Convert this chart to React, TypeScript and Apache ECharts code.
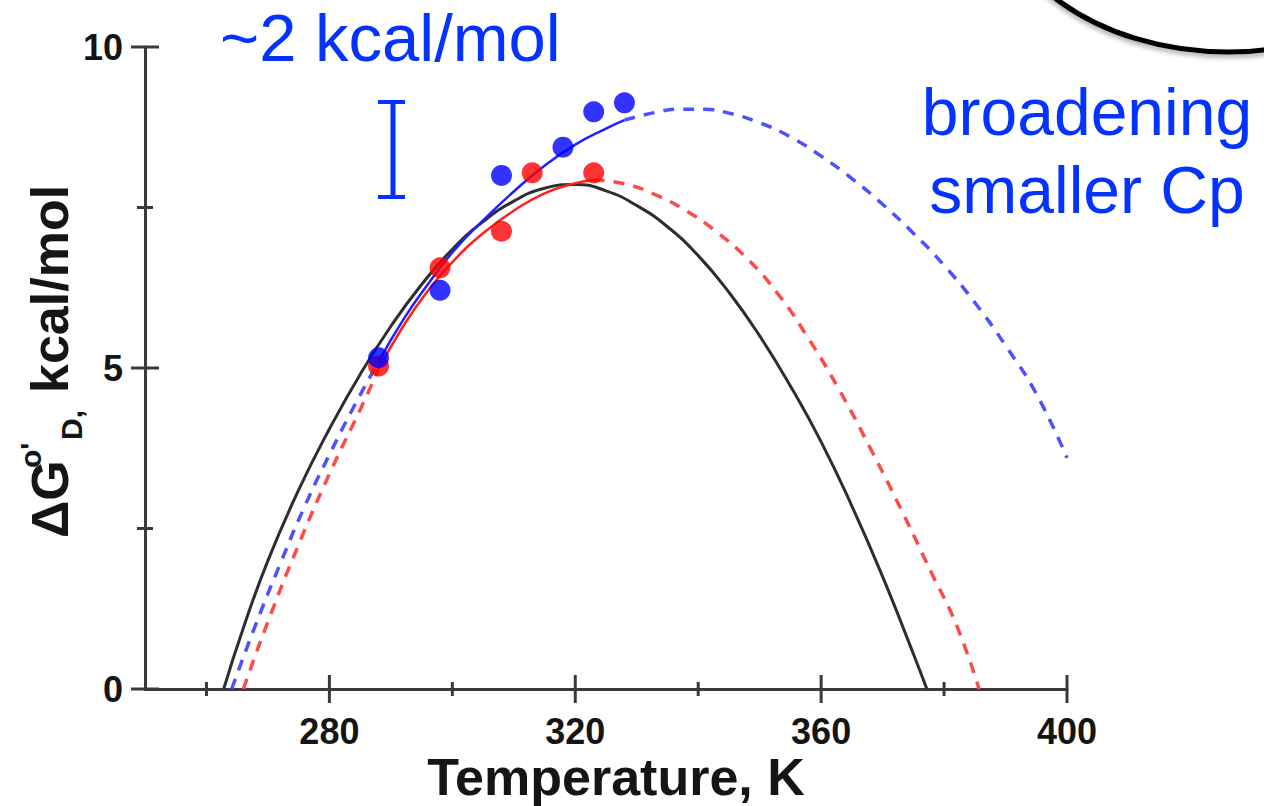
import React, { useEffect, useRef } from "react";
import * as echarts from "echarts";

// Stability curves, ΔG°'D (kcal/mol) against temperature (K)
const blackT = [262.8, 266, 270, 275, 280, 285, 290, 295, 300, 305, 310, 315, 320, 325, 330, 335, 340, 345, 350, 355, 360, 365, 370, 375, 377.2];
const blackG = [0, 0.95, 2.0, 3.1, 4.05, 4.9, 5.65, 6.3, 6.85, 7.28, 7.6, 7.8, 7.86, 7.76, 7.53, 7.2, 6.75, 6.18, 5.5, 4.72, 3.85, 2.85, 1.75, 0.55, 0];

const redT = [266, 270, 275, 280, 285, 288, 292, 296, 300, 305, 310, 315, 320, 323, 328, 333, 338, 343, 348, 353, 358, 363, 368, 373, 378, 382, 385.7];
const redG = [0, 1.05, 2.25, 3.35, 4.35, 4.98, 5.65, 6.2, 6.65, 7.1, 7.45, 7.72, 7.88, 7.93, 7.87, 7.7, 7.45, 7.12, 6.7, 6.15, 5.45, 4.65, 3.75, 2.8, 1.8, 1.0, 0];
const redFitRange = [288, 323];

const blueT = [264.1, 268, 272, 276, 280, 284, 288, 292, 296, 300, 305, 310, 315, 320, 325, 328, 333, 337, 341, 345, 350, 355, 360, 365, 370, 375, 380, 385, 390, 395, 400];
const blueG = [0, 1.0, 1.95, 2.85, 3.65, 4.4, 5.1, 5.75, 6.3, 6.8, 7.3, 7.75, 8.15, 8.48, 8.73, 8.86, 8.98, 9.03, 9.03, 8.97, 8.82, 8.6, 8.3, 7.95, 7.55, 7.1, 6.6, 6.02, 5.35, 4.6, 3.6];
const blueFitRange = [288, 328];

// Measured points
const redPointT = [288, 298, 308, 313, 323];
const redPointG = [5.03, 6.56, 7.13, 8.04, 8.04];
const bluePointT = [288, 298, 308, 318, 323, 328];
const bluePointG = [5.16, 6.21, 8.0, 8.44, 8.99, 9.13];

// Axis ticks
const xMin = 250;
const xMax = 400;
const yMin = 0;
const yMax = 10;
const xTickValues = [280, 320, 360, 400];
const xMinorValues = [260, 300, 340, 380];
const yTickValues = [0, 5, 10];
const yMinorValues = [2.5, 7.5];

const AXIS_COLOR = "#3a3a3a";
const TEXT_COLOR = "#151515";
const NOTE_BLUE = "#0433ff";
const FONT = "'Liberation Sans', Arial, Helvetica, sans-serif";

function pairs(t: number[], g: number[]) {
  return t.map((v, i) => [v, g[i]]);
}
function segment(t: number[], g: number[], lo: number, hi: number) {
  return pairs(t, g).filter(([x]) => x >= lo && x <= hi);
}

function lineSeries(data: number[][], color: string, width: number, dashed: boolean, z = 2) {
  return {
    type: "line",
    data,
    smooth: true,
    symbol: "none",
    z,
    silent: true,
    lineStyle: { color, width, type: dashed ? [11, 9] : "solid", cap: "butt" },
  };
}

// Tick marks that cross the axis line on both sides
function tickSeries(values: number[], onX: boolean, half: number) {
  return {
    type: "custom",
    silent: true,
    z: 1,
    clip: false,
    data: values.map((v) => (onX ? [v, yMin] : [xMin, v])),
    renderItem: (_params: any, api: any) => {
      const p = api.coord([api.value(0), api.value(1)]);
      const shape = onX
        ? { x1: p[0], y1: p[1] - half, x2: p[0], y2: p[1] + half }
        : { x1: p[0] - half, y1: p[1], x2: p[0] + half, y2: p[1] };
      return { type: "line", shape, style: { stroke: AXIS_COLOR, lineWidth: 3 } };
    },
  };
}

function rotatedText(text: string, x: number, y: number, size: number) {
  return {
    type: "text",
    x,
    y,
    rotation: Math.PI / 2,
    silent: true,
    style: {
      text,
      fill: TEXT_COLOR,
      fontSize: size,
      fontWeight: "bold",
      fontFamily: FONT,
      align: "left",
      textAlign: "left",
      verticalAlign: "middle",
      textVerticalAlign: "middle",
    },
  };
}

function noteText(text: string, x: number, y: number, align: string, size: number) {
  return {
    type: "text",
    x,
    y,
    silent: true,
    style: {
      text,
      fill: NOTE_BLUE,
      fontSize: size,
      fontWeight: "normal",
      fontFamily: FONT,
      align,
      textAlign: align,
      verticalAlign: "middle",
      textVerticalAlign: "middle",
    },
  };
}

export default function App() {
  const ref = useRef<HTMLDivElement>(null);

  useEffect(() => {
    if (!ref.current) return;
    const chart = echarts.init(ref.current, undefined, { renderer: "svg" });

    const option = {
      animation: false,
      backgroundColor: "#ffffff",
      grid: { left: 145, right: 197, top: 47, bottom: 117, containLabel: false },
      xAxis: {
        type: "value",
        min: xMin,
        max: xMax,
        splitLine: { show: false },
        axisLine: { show: true, onZero: false, lineStyle: { color: AXIS_COLOR, width: 3 } },
        axisTick: { show: false },
        axisLabel: { show: true, customValues: xTickValues, margin: 24, fontSize: 36, fontWeight: "bold", color: TEXT_COLOR, fontFamily: FONT },
      },
      yAxis: {
        type: "value",
        min: yMin,
        max: yMax,
        splitLine: { show: false },
        axisLine: { show: true, onZero: false, lineStyle: { color: AXIS_COLOR, width: 3 } },
        axisTick: { show: false },
        axisLabel: { show: true, customValues: yTickValues, margin: 22, fontSize: 36, fontWeight: "bold", color: TEXT_COLOR, fontFamily: FONT },
      },
      series: [
        tickSeries(xTickValues, true, 14),
        tickSeries(xMinorValues, true, 7),
        tickSeries(yTickValues, false, 14),
        tickSeries(yMinorValues, false, 8),
        lineSeries(pairs(blackT, blackG), "#2e2e2e", 3, false, 2),
        lineSeries(segment(redT, redG, redT[0], redFitRange[0]), "#ff4a4a", 3.5, true, 3),
        lineSeries(segment(redT, redG, redFitRange[0], redFitRange[1]), "#ff2020", 2.5, false, 3),
        lineSeries(segment(redT, redG, redFitRange[1], redT[redT.length - 1]), "#ff4a4a", 3.5, true, 3),
        lineSeries(segment(blueT, blueG, blueT[0], blueFitRange[0]), "#5050ff", 3.5, true, 4),
        lineSeries(segment(blueT, blueG, blueFitRange[0], blueFitRange[1]), "#2020ff", 2.5, false, 4),
        lineSeries(segment(blueT, blueG, blueFitRange[1], blueT[blueT.length - 1]), "#5050ff", 3.5, true, 4),
        {
          type: "scatter",
          data: pairs(redPointT, redPointG),
          symbol: "circle",
          symbolSize: 21,
          z: 5,
          silent: true,
          itemStyle: { color: "#ff0000" },
        },
        {
          type: "scatter",
          data: pairs(bluePointT, bluePointG),
          symbol: "circle",
          symbolSize: 21,
          z: 6,
          silent: true,
          itemStyle: { color: "#0000ff" },
        },
      ],
      graphic: [
        // axis titles
        rotatedText("ΔG", 50, 538, 52),
        rotatedText("o'", 30, 468, 30),
        rotatedText("D,", 71, 440, 30),
        rotatedText("kcal/mol", 50, 393, 52),
        {
          type: "text",
          x: 616,
          y: 777,
          silent: true,
          style: {
            text: "Temperature, K",
            fill: TEXT_COLOR,
            fontSize: 52,
            fontWeight: "bold",
            fontFamily: FONT,
            align: "center",
            textAlign: "center",
            verticalAlign: "middle",
            textVerticalAlign: "middle",
          },
        },
        // annotations
        noteText("~2 kcal/mol", 220, 37, "left", 67),
        noteText("broadening", 1087, 112, "center", 66),
        noteText("smaller Cp", 1087, 190, "center", 66),
        {
          type: "line",
          silent: true,
          shape: { x1: 393, y1: 100, x2: 393, y2: 199 },
          style: { stroke: NOTE_BLUE, lineWidth: 5 },
        },
        {
          type: "line",
          silent: true,
          shape: { x1: 378, y1: 102, x2: 405, y2: 102 },
          style: { stroke: NOTE_BLUE, lineWidth: 4 },
        },
        {
          type: "line",
          silent: true,
          shape: { x1: 378, y1: 197, x2: 405, y2: 197 },
          style: { stroke: NOTE_BLUE, lineWidth: 4 },
        },
        // speech bubble edge in the corner
        {
          type: "ellipse",
          silent: true,
          shape: { cx: 1228, cy: -120, rx: 238, ry: 172 },
          style: {
            fill: "none",
            stroke: "#000000",
            lineWidth: 5,
            shadowBlur: 5,
            shadowColor: "rgba(0,0,0,0.35)",
            shadowOffsetY: 3,
          },
        },
      ],
    };

    chart.setOption(option as any);
    return () => chart.dispose();
  }, []);

  return (
    <div
      ref={ref}
      style={{ position: "fixed", left: 0, top: 0, width: 1264, height: 806, background: "#ffffff" }}
    />
  );
}
